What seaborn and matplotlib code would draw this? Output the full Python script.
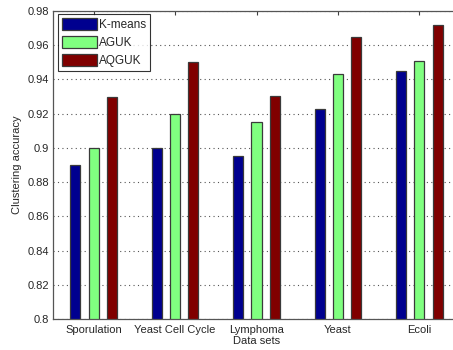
import matplotlib
matplotlib.use("Agg")
import matplotlib.pyplot as plt
import seaborn as sns
import pandas as pd

datasets = ["Sporulation", "Yeast Cell Cycle", "Lymphoma", "Yeast", "Ecoli"]
methods = ["K-means", "AGUK", "AQGUK"]
kmeans = [0.890, 0.900, 0.895, 0.9225, 0.945]
aguk = [0.900, 0.920, 0.915, 0.943, 0.9508]
aqguk = [0.930, 0.950, 0.9305, 0.965, 0.972]
colors = ["#00008F", "#80FF80", "#800000"]
y_ticks = [0.8, 0.82, 0.84, 0.86, 0.88, 0.9, 0.92, 0.94, 0.96, 0.98]
y_labels = ["0.8", "0.82", "0.84", "0.86", "0.88", "0.9", "0.92", "0.94", "0.96", "0.98"]

df = pd.DataFrame({
    "dataset": datasets * 3,
    "method": [m for m in methods for _ in datasets],
    "accuracy": kmeans + aguk + aqguk,
})

sns.set_style("white")
plt.rcParams["font.family"] = ["Liberation Sans", "DejaVu Sans"]

fig = plt.figure(figsize=(4.53, 3.5), dpi=100)
ax = fig.add_axes([53 / 453, 1 - 319 / 350, (460 - 53) / 453, (319 - 11) / 350])

sns.barplot(data=df, x="dataset", y="accuracy", hue="method", order=datasets,
            hue_order=methods, palette=colors, saturation=1, width=0.675, gap=0.45,
            edgecolor="#3a3a3a", linewidth=0.9, ax=ax, legend=True)

ax.set_ylim(0.8, 0.98)
ax.set_xlim(-0.5, 4.5)
ax.set_yticks(y_ticks)
ax.set_yticklabels(y_labels)
ax.yaxis.grid(True, linestyle=(0, (1, 3)), color="#555555", linewidth=0.8)
ax.set_axisbelow(True)

ax.set_xlabel("Data sets", fontsize=8, labelpad=1)
ax.set_ylabel("Clustering accuracy", fontsize=8, labelpad=4)
ax.tick_params(axis="both", labelsize=8, direction="in", length=3,
               color="#404040", top=True, right=True, pad=3)
ax.tick_params(axis="x", pad=4)
for s in ax.spines.values():
    s.set_visible(True)
    s.set_color("#555555")
    s.set_linewidth(0.9)

leg = ax.legend(loc="upper left", bbox_to_anchor=(0.012, 0.99), fontsize=8.5,
                frameon=True, fancybox=False, edgecolor="black",
                handlelength=3.0, handleheight=1.1, handletextpad=0.15,
                borderpad=0.35, labelspacing=0.45, borderaxespad=0.0)
leg.get_frame().set_linewidth(0.8)

fig.savefig("out.png", dpi=100)
